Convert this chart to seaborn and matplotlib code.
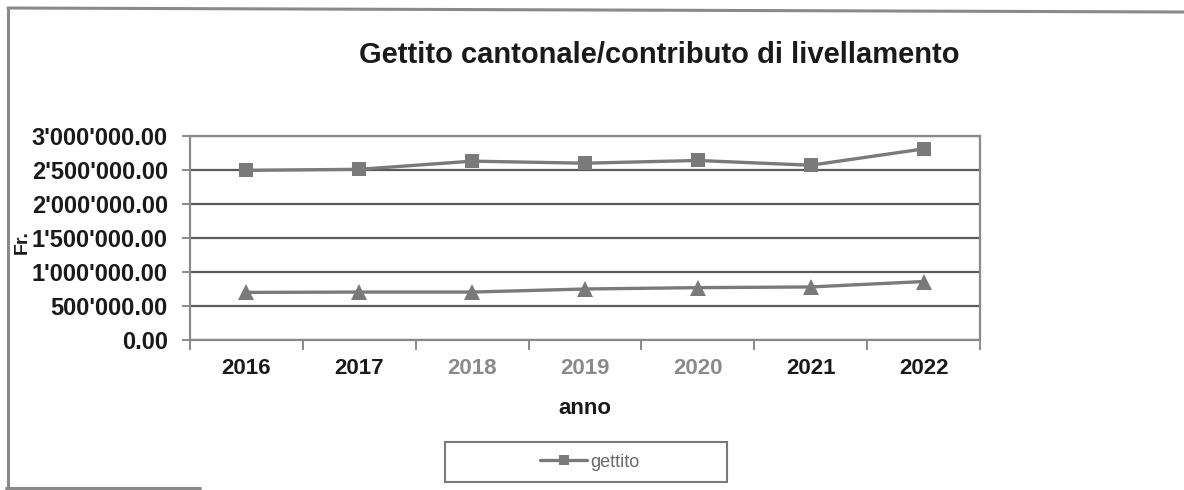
import matplotlib
matplotlib.use("Agg")
import matplotlib.pyplot as plt
from matplotlib.lines import Line2D
from matplotlib.patches import Rectangle
from matplotlib.ticker import FuncFormatter, FixedLocator
import pandas as pd
import seaborn as sns

ANNI = ['2016', '2017', '2018', '2019', '2020', '2021', '2022']
GETTITO = [2495000, 2510000, 2630000, 2600000, 2640000, 2570000, 2810000]
CONTRIBUTO = [700000, 705000, 705000, 750000, 770000, 780000, 860000]
GRAY_YEARS = ['2018', '2019', '2020']

sns.set_theme(style='white')
plt.rcParams['font.family'] = ['Liberation Sans', 'DejaVu Sans']

df = pd.DataFrame({'anno': ANNI, 'gettito': GETTITO, 'contributo': CONTRIBUTO})

fig = plt.figure(figsize=(11.84, 4.9), dpi=100)
ax = fig.add_axes([190 / 1184, 150 / 490, 790 / 1184, 204 / 490])

line_color = '#7a7a7a'
sns.lineplot(data=df, x='anno', y='gettito', ax=ax, color=line_color, marker='s',
             markersize=10.5, linewidth=2.4, markeredgewidth=0, label='gettito', sort=False)
sns.lineplot(data=df, x='anno', y='contributo', ax=ax, color=line_color, marker='^',
             markersize=11.5, linewidth=2.4, markeredgewidth=0, label='_nolegend_', sort=False)

ax.set_ylim(0, 3000000)
ax.set_xlim(-0.5, len(ANNI) - 0.5)
ax.set_yticks(range(0, 3000001, 500000))
ax.yaxis.set_major_formatter(FuncFormatter(lambda v, _: f"{v:,.2f}".replace(',', "'")))
ax.grid(axis='y', color='#5a5a5a', linewidth=1.6)
for sp in ax.spines.values():
    sp.set_color('#8a8a8a')
    sp.set_linewidth(1.6)

ax.tick_params(axis='y', which='major', length=6, width=1.4, color='#8a8a8a', left=True,
               labelsize=17, pad=10)
ax.tick_params(axis='x', which='major', length=0, labelsize=16, pad=13)
ax.xaxis.set_minor_locator(FixedLocator([i - 0.5 for i in range(len(ANNI) + 1)]))
ax.tick_params(axis='x', which='minor', length=7, width=1.4, color='#8a8a8a', bottom=True)
for lbl in ax.get_yticklabels():
    lbl.set_fontweight('bold')
    lbl.set_color('#1a1a1a')
for lbl in ax.get_xticklabels():
    lbl.set_fontweight('bold')
    lbl.set_color('#8a8a8a' if lbl.get_text() in GRAY_YEARS else '#1a1a1a')

ax.set_xlabel('anno', fontsize=16, fontweight='bold', color='#1a1a1a', labelpad=14)
ax.set_ylabel('')
fig.text(22 / 1184, 1 - 242 / 490, 'Fr.', rotation=90, fontsize=14, fontweight='bold',
         color='#1a1a1a', ha='center', va='center')

fig.text(659 / 1184, 1 - 55 / 490, 'Gettito cantonale/contributo di livellamento',
         fontsize=21, fontweight='bold', color='#1a1a1a', ha='center', va='center')

# riquadro della legenda
fig.add_artist(Rectangle((445 / 1184, 1 - 482 / 490), 282 / 1184, 40 / 490,
                         transform=fig.transFigure, fill=False, edgecolor='#7a7a7a',
                         linewidth=1.5))
leg = ax.legend(loc='center', bbox_to_anchor=(590 / 1184, 1 - 462 / 490),
                bbox_transform=fig.transFigure, frameon=False,
                fontsize=13, handlelength=2.6, handletextpad=0.2, borderaxespad=0,
                markerscale=0.7)
for t in leg.get_texts():
    t.set_color('#6a6a6a')

# cornice del grafico (bordo scansionato)
fig.add_artist(Line2D([8 / 1184, 1.0], [1 - 8 / 490, 1 - 12 / 490], transform=fig.transFigure,
                      color='#8a8a8a', linewidth=2.2))
fig.add_artist(Line2D([8 / 1184, 8 / 1184], [1 - 8 / 490, 1 / 490], transform=fig.transFigure,
                      color='#8a8a8a', linewidth=2.2))
fig.add_artist(Line2D([6 / 1184, 200 / 1184], [2 / 490, 2 / 490], transform=fig.transFigure,
                      color='#8a8a8a', linewidth=2.2))

fig.savefig('out.png', dpi=100)
